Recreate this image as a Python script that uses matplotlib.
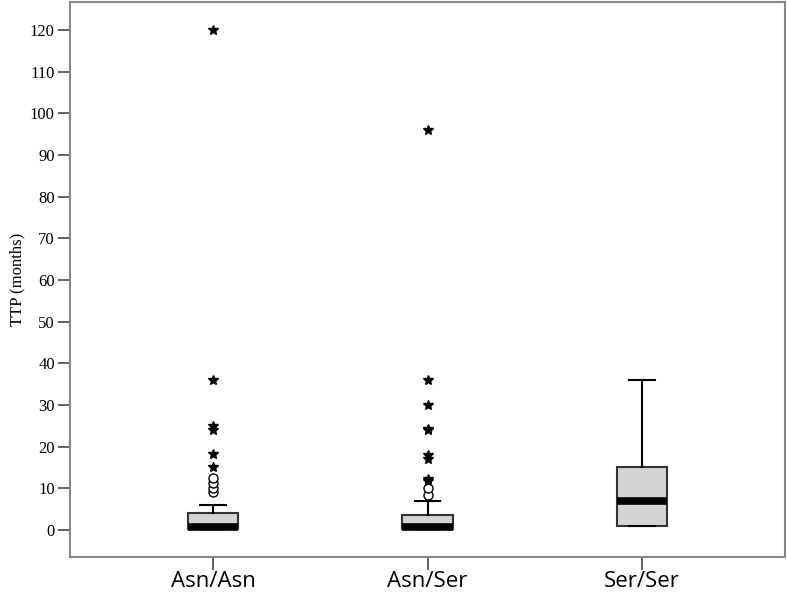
import matplotlib
matplotlib.use('Agg')
import matplotlib.pyplot as plt

# data
groups = ['Asn/Asn', 'Asn/Ser', 'Ser/Ser']
q1 = [0.2, 0.3, 1.0]
median = [0.8, 0.8, 7.0]
q3 = [4.0, 3.5, 15.0]
whis_lo = [0.2, 0.3, 1.0]
whis_hi = [6.0, 7.0, 36.0]

# mild outliers (circles) and extreme outliers (stars)
mild = [[9, 10, 11.2, 12.4], [8.3, 10], []]
extreme = [[15, 18.2, 24, 25, 36, 120], [11.8, 12.3, 17, 18, 24, 24.3, 30, 36, 96], []]

fig = plt.figure(figsize=(7.87, 5.99), dpi=100)
ax = fig.add_axes([0.089, 0.070, 0.9085, 0.9267])

pos = [1, 2, 3]
stats = []
for i in range(3):
    stats.append(dict(med=median[i], q1=q1[i], q3=q3[i],
                      whislo=whis_lo[i], whishi=whis_hi[i], label=groups[i]))

ax.bxp(stats, positions=pos, widths=0.235, showfliers=False, patch_artist=True,
       boxprops=dict(facecolor='#d4d4d4', edgecolor='#333333', linewidth=1.5),
       medianprops=dict(color='black', linewidth=5.5, solid_capstyle='butt'),
       whiskerprops=dict(color='black', linewidth=1.5),
       capprops=dict(color='black', linewidth=1.5), capwidths=0.12)

for i in range(3):
    if mild[i]:
        ax.plot([pos[i]] * len(mild[i]), mild[i], 'o', mfc='white', mec='black',
                mew=1.0, ms=6.5, zorder=4)
    if extreme[i]:
        ax.plot([pos[i]] * len(extreme[i]), extreme[i], '*', color='black',
                ms=7.5, zorder=4)

ax.set_xlim(1 / 3, 11 / 3)
ax.set_ylim(-6.5, 126.7)
ax.set_yticks(range(0, 121, 10))
ax.set_yticklabels([str(v) for v in range(0, 121, 10)], fontfamily='Liberation Serif',
                   fontsize=12)
ax.set_xticks(pos)
ax.set_xticklabels(groups, fontfamily='Open Sans', fontsize=16)
ax.tick_params(axis='y', direction='out', length=9, width=1.3, color='#555555', pad=2)
ax.tick_params(axis='x', direction='out', length=9, width=1.3, color='#555555', pad=1)
ax.set_ylabel('TTP (months)', fontfamily='Liberation Serif', fontsize=12, labelpad=3)

for s in ax.spines.values():
    s.set_color('#888888')
    s.set_linewidth(1.5)

fig.savefig('out.png', dpi=100)
